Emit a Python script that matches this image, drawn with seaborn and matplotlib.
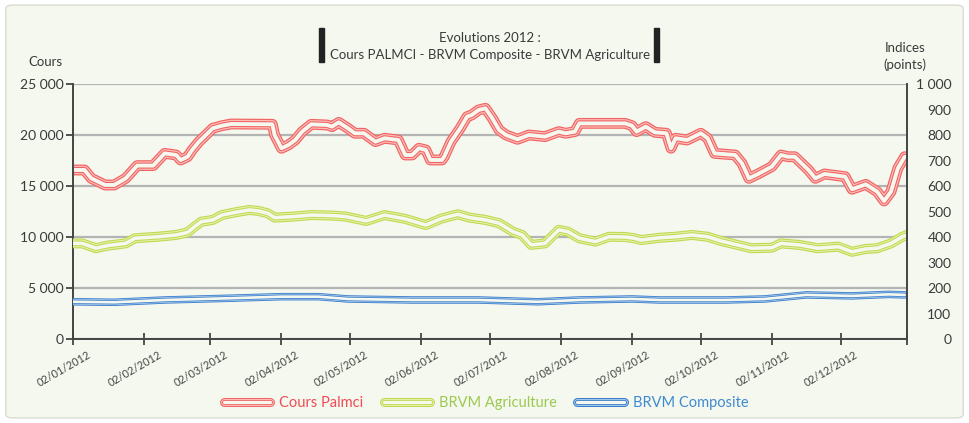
import matplotlib
matplotlib.use("Agg")
import matplotlib.pyplot as plt
import matplotlib.patheffects as pe
from matplotlib.patches import FancyBboxPatch, Rectangle
from matplotlib.lines import Line2D
from matplotlib.ticker import FuncFormatter, MultipleLocator
from matplotlib.transforms import ScaledTranslation
import pandas as pd
import seaborn as sns

# --- data ---
palmci_dates = ["2012-01-02", "2012-01-07", "2012-01-10", "2012-01-16", "2012-01-20", "2012-01-25",
                "2012-01-30", "2012-02-06", "2012-02-11", "2012-02-16", "2012-02-18", "2012-02-21",
                "2012-02-23", "2012-02-26", "2012-02-29", "2012-03-03", "2012-03-07", "2012-03-11",
                "2012-03-29", "2012-03-30", "2012-04-02", "2012-04-05", "2012-04-08", "2012-04-11",
                "2012-04-15", "2012-04-22", "2012-04-24", "2012-04-27", "2012-05-01", "2012-05-04",
                "2012-05-08", "2012-05-13", "2012-05-17", "2012-05-23", "2012-05-26", "2012-05-29",
                "2012-06-01", "2012-06-04", "2012-06-06", "2012-06-11", "2012-06-12", "2012-06-15",
                "2012-06-19", "2012-06-22", "2012-06-24", "2012-06-27", "2012-06-30", "2012-07-03",
                "2012-07-06", "2012-07-09", "2012-07-14", "2012-07-19", "2012-07-26", "2012-08-01",
                "2012-08-04", "2012-08-08", "2012-08-10", "2012-08-30", "2012-09-02", "2012-09-04",
                "2012-09-08", "2012-09-12", "2012-09-17", "2012-09-19", "2012-09-21", "2012-09-26",
                "2012-10-02", "2012-10-05", "2012-10-08", "2012-10-17", "2012-10-20", "2012-10-23",
                "2012-10-27", "2012-11-02", "2012-11-06", "2012-11-09", "2012-11-12", "2012-11-18",
                "2012-11-21", "2012-11-25", "2012-12-04", "2012-12-07", "2012-12-13", "2012-12-18",
                "2012-12-21", "2012-12-24", "2012-12-27", "2012-12-30"]
palmci_values = [16570, 16570, 15750, 15100, 15100, 15750,
                 17000, 17000, 18200, 18040, 17550, 17870,
                 18530, 19350, 20000, 20660, 20910, 21080,
                 21050, 20000, 18700, 19020, 19510, 20330,
                 21050, 20980, 20820, 21240, 20660, 20170,
                 20170, 19350, 19680, 19510, 18040, 18040,
                 18700, 18530, 17550, 17550, 17870, 19350,
                 20660, 21800, 21960, 22450, 22620, 21640,
                 20490, 20000, 19580, 20000, 19840, 20330,
                 20170, 20330, 21140, 21140, 20910, 20330,
                 20820, 20260, 20170, 18700, 19680, 19510,
                 20170, 19680, 18200, 18040, 17220, 15750,
                 16180, 16900, 18040, 17870, 17870, 16570,
                 15750, 16180, 15910, 14680, 15160, 14440,
                 13530, 14440, 16730, 17870]

agri_dates = ["2012-01-02", "2012-01-06", "2012-01-12", "2012-01-17", "2012-01-25", "2012-01-29",
              "2012-02-08", "2012-02-16", "2012-02-21", "2012-02-24", "2012-02-27", "2012-03-03",
              "2012-03-07", "2012-03-13", "2012-03-19", "2012-03-23", "2012-03-27", "2012-03-30",
              "2012-04-07", "2012-04-15", "2012-04-24", "2012-04-30", "2012-05-09", "2012-05-17",
              "2012-05-26", "2012-06-04", "2012-06-11", "2012-06-18", "2012-06-23", "2012-06-30",
              "2012-07-06", "2012-07-12", "2012-07-16", "2012-07-20", "2012-07-26", "2012-08-01",
              "2012-08-05", "2012-08-10", "2012-08-17", "2012-08-23", "2012-08-30", "2012-09-03",
              "2012-09-06", "2012-09-14", "2012-09-21", "2012-09-28", "2012-10-05", "2012-10-11",
              "2012-10-18", "2012-10-24", "2012-11-02", "2012-11-06", "2012-11-14", "2012-11-22",
              "2012-12-01", "2012-12-07", "2012-12-13", "2012-12-18", "2012-12-24", "2012-12-29",
              "2012-12-31"]
agri_values = [375, 375, 356, 366, 375, 395,
               401, 408, 418, 440, 460, 467,
               486, 497, 506, 502, 493, 476,
               480, 486, 484, 480, 463, 486,
               471, 447, 473, 489, 476, 467,
               454, 421, 408, 369, 375, 428,
               421, 395, 382, 401, 400, 395,
               388, 397, 401, 408, 401, 384,
               369, 356, 358, 375, 369, 356,
               362, 342, 353, 356, 375, 401,
               408]

compo_dates = ["2012-01-02", "2012-01-20", "2012-02-11", "2012-03-11", "2012-04-02", "2012-04-18",
               "2012-05-01", "2012-05-29", "2012-06-27", "2012-07-23", "2012-08-10", "2012-09-02",
               "2012-09-14", "2012-10-13", "2012-10-30", "2012-11-17", "2012-12-07", "2012-12-23",
               "2012-12-30"]
compo_values = [146, 144, 153, 160, 166, 166,
                157, 153, 153, 146, 153, 157,
                153, 153, 157, 173, 169, 175,
                173]

tick_dates = ["2012-01-02", "2012-02-02", "2012-03-02", "2012-04-02", "2012-05-02", "2012-06-02",
              "2012-07-02", "2012-08-02", "2012-09-02", "2012-10-02", "2012-11-02", "2012-12-02"]
tick_labels = ["02/01/2012", "02/02/2012", "02/03/2012", "02/04/2012", "02/05/2012", "02/06/2012",
               "02/07/2012", "02/08/2012", "02/09/2012", "02/10/2012", "02/11/2012", "02/12/2012"]
end_date = "2012-12-31"

BG = "#F5F8EF"
TXT = "#3A3A3A"
RED, RED_L, RED_T = "#F06464", "#FFBDB8", "#EE4C55"
GRN, GRN_L, GRN_T = "#C0D850", "#E6F1A8", "#9CC94F"
BLU, BLU_L, BLU_T = "#3B7DCB", "#A4C9EC", "#3D8AD0"

sns.set_style("white")
plt.rcParams["font.family"] = ["Lato", "DejaVu Sans"]


def tube(col, light, w):
    # hollow "double outline" stroke
    return [pe.Stroke(linewidth=w, foreground=col),
            pe.Stroke(linewidth=w * 0.78, foreground=light),
            pe.Stroke(linewidth=w * 0.56, foreground=col),
            pe.Stroke(linewidth=w * 0.36, foreground=BG)]


fig = plt.figure(figsize=(9.69, 4.23), dpi=100, facecolor="white")
frame = FancyBboxPatch((0.006, 0.012), 0.988, 0.976, boxstyle="round,pad=0,rounding_size=0.008",
                       transform=fig.transFigure, fc=BG, ec="#D9DCD2", lw=1, zorder=-10)
fig.patches.append(frame)

ax = fig.add_axes([73 / 969, 1 - 339 / 423, (907 - 73) / 969, (339 - 84) / 423])
ax.set_facecolor("none")
ax2 = ax.twinx()

sns.lineplot(x=pd.to_datetime(palmci_dates), y=palmci_values, ax=ax, color=RED,
             path_effects=tube(RED, RED_L, 7.8), solid_joinstyle="round", legend=False)
sns.lineplot(x=pd.to_datetime(agri_dates), y=agri_values, ax=ax2, color=GRN,
             path_effects=tube(GRN, GRN_L, 7.2), solid_joinstyle="round", legend=False)
sns.lineplot(x=pd.to_datetime(compo_dates), y=compo_values, ax=ax2, color=BLU,
             path_effects=tube(BLU, BLU_L, 5.4), solid_joinstyle="round", legend=False)

ax.set_xlim(pd.Timestamp(tick_dates[0]), pd.Timestamp(end_date))
ax.set_ylim(0, 25000)
ax2.set_ylim(0, 1000)
ax.yaxis.set_major_locator(MultipleLocator(5000))
ax2.yaxis.set_major_locator(MultipleLocator(100))
fmt = FuncFormatter(lambda v, p: f"{v:,.0f}".replace(",", " "))
ax.yaxis.set_major_formatter(fmt)
ax2.yaxis.set_major_formatter(fmt)
ax.set_xlabel("")
ax.set_ylabel("")
ax2.set_ylabel("")

ax.set_xticks(pd.to_datetime(tick_dates + [end_date]))
ax.set_xticklabels(tick_labels + [""])

ax.grid(axis="y", color="#B4B4B4", lw=1.6)
ax.grid(axis="x", visible=False)
ax.set_axisbelow(True)
ax.get_ygridlines()[-1].set_color("#D2D2D2")

for a in (ax, ax2):
    a.spines["top"].set_visible(False)
ax.spines["right"].set_visible(False)
ax2.spines["left"].set_visible(False)
ax2.spines["bottom"].set_visible(False)
for s in (ax.spines["left"], ax.spines["bottom"], ax2.spines["right"]):
    s.set_color("#444444")
    s.set_linewidth(1.4)

ax.tick_params(axis="y", direction="out", length=5, width=1.3, color="#444444", pad=2,
               labelsize=10, labelcolor=TXT, left=True)
ax.tick_params(axis="x", direction="inout", length=9, width=1.3, color="#444444", pad=3,
               labelsize=7.8, labelcolor="#444444", bottom=True)
ax2.tick_params(axis="y", length=0, pad=32, labelsize=10, labelcolor=TXT)
for t in ax2.get_yticklabels():
    t.set_ha("right")

off = ScaledTranslation(14 / 100, 0, fig.dpi_scale_trans)
for t in ax.get_xticklabels():
    t.set_rotation(30)
    t.set_ha("right")
    t.set_va("top")
    t.set_rotation_mode("anchor")
    t.set_transform(t.get_transform() + off)

# title with side bars
fig.text(490 / 969, 1 - 38 / 423, "Evolutions 2012 :", ha="center", va="center", fontsize=9.5, color=TXT)
fig.text(490 / 969, 1 - 55 / 423, "Cours PALMCI - BRVM Composite - BRVM Agriculture",
         ha="center", va="center", fontsize=9.5, color=TXT)
for bx in (319, 654):
    fig.add_artist(Rectangle((bx / 969, 1 - 62 / 423), 5 / 969, 34 / 423,
                             transform=fig.transFigure, color="#222222"))

fig.text(45 / 969, 1 - 62 / 423, "Cours", ha="center", va="center", fontsize=9.5, color=TXT)
fig.text(905 / 969, 1 - 48 / 423, "Indices", ha="center", va="center", fontsize=9.5, color=TXT)
fig.text(905 / 969, 1 - 65 / 423, "(points)", ha="center", va="center", fontsize=9.5, color=TXT)

handles = [Line2D([], [], color=RED, path_effects=tube(RED, RED_L, 6.5)),
           Line2D([], [], color=GRN, path_effects=tube(GRN, GRN_L, 6.5)),
           Line2D([], [], color=BLU, path_effects=tube(BLU, BLU_L, 6.5))]
leg = fig.legend(handles, ["Cours Palmci", "BRVM Agriculture", "BRVM Composite"],
                 loc="center", bbox_to_anchor=(486 / 969, 1 - 403 / 423), ncol=3, frameon=False,
                 fontsize=10.5, handlelength=3.2, handletextpad=0.6, columnspacing=1.4)
for txt, c in zip(leg.get_texts(), (RED_T, GRN_T, BLU_T)):
    txt.set_color(c)

fig.savefig("out.png", dpi=100, facecolor="white")
